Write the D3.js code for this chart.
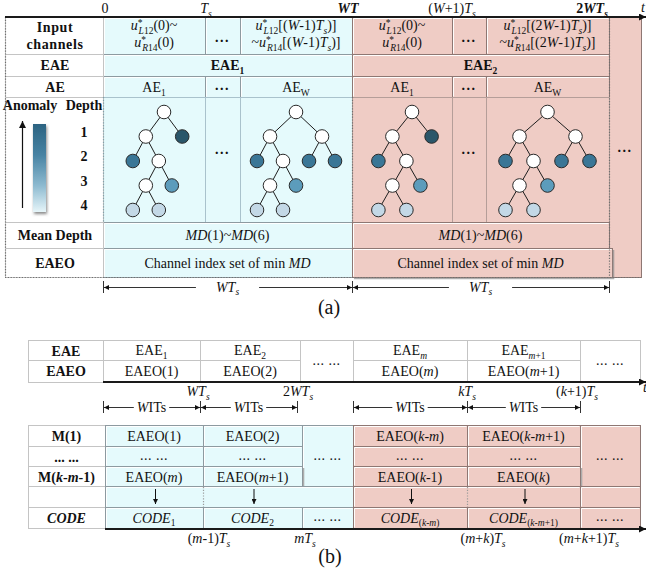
<!DOCTYPE html>
<html>
<head>
<meta charset="utf-8">
<script src="https://cdn.jsdelivr.net/npm/d3@7"></script>
<style>
  body { margin: 0; background: #fff; }
  svg { display: block; }
  text { font-family: "Liberation Serif", "Times New Roman", serif; fill: #111; }
</style>
</head>
<body>
<svg id="fig" width="646" height="575"></svg>
<script>
// ---------------- content ----------------
// markup: |...| italic, !...! bold, _{..} subscript, ^{..} superscript
const axisTicksA = ["0", "|T|_{|s|}", "!|WT|!", "(|W|+1)|T|_{|s|}", "!2|WT|_{|s|}!"];
const rowLabelsA = [["Input", "channels"], ["EAE"], ["AE"], [], ["Mean Depth"], ["EAEO"]];
const inputChannels = [
  [["|u|^{*}_{|L|12}(0)~", "|u|^{*}_{|R|14}(0)"], ["..."],
   ["|u|^{*}_{|L|12}[(|W|-1)|T|_{|s|})]", "~|u|^{*}_{|R|14}[(|W|-1)|T|_{|s|})]"]],
  [["|u|^{*}_{|L|12}(0)~", "|u|^{*}_{|R|14}(0)"], ["..."],
   ["|u|^{*}_{|L|12}[(2|W|-1)|T|_{|s|})]", "~|u|^{*}_{|R|14}[(2|W|-1)|T|_{|s|})]"]]
];
const eaeLabels = ["EAE_{1}", "EAE_{2}"];
const aeLabels = ["AE_{1}", "...", "AE_{W}"];
const legendTitles = ["Anomaly", "Depth"];
const depthLevels = ["1", "2", "3", "4"];
const meanDepthLabel = "|MD|(1)~|MD|(6)";
const eaeoLabel = "Channel index set of min |MD|";
const spanLabelA = "|WT|_{|s|}";

// isolation trees: leaves coloured by their depth, inner nodes white
const treeFirst = { children: [
  { children: [ {}, { children: [ { children: [ {}, {} ] }, {} ] } ] },
  {} ] };
const treeLast = { children: [
  { children: [ {}, { children: [ { children: [ {}, {} ] }, {} ] } ] },
  { children: [ {}, {} ] } ] };
const depthColors = ["#ffffff", "#2a566a", "#3a7696", "#5c9cbc", "#c3d8e6"];

const rowLabelsB1 = ["EAE", "EAEO"];
const eaeRowB = ["EAE_{1}", "EAE_{2}", "EAE_{|m|}", "EAE_{|m|+1}"];
const eaeoRowB = ["EAEO(1)", "EAEO(2)", "EAEO(|m|)", "EAEO(|m|+1)"];
const axisTicksB1 = ["|WT|_{|s|}", "2|WT|_{|s|}", "|kT|_{|s|}", "(|k|+1)|T|_{|s|}"];
const windowLabel = "|W|ITs";
const rowLabelsB2 = ["M(1)", "... ...", "M(|k|-|m|-1)", "", "|CODE|"];
const mFirstRow = ["EAEO(1)", "EAEO(2)", "EAEO(|k|-|m|)", "EAEO(|k|-|m|+1)"];
const mMidRow = ["... ...", "... ...", "... ...", "... ..."];
const mLastRow = ["EAEO(|m|)", "EAEO(|m|+1)", "EAEO(|k|-1)", "EAEO(|k|)"];
const codeRow = ["|CODE|_{1}", "|CODE|_{2}", "|CODE|_{(|k|-|m|)}", "|CODE|_{(|k|-|m|+1)}"];
const axisTicksB2 = ["(|m|-1)|T|_{|s|}", "|mT|_{|s|}", "(|m|+|k|)|T|_{|s|}", "(|m|+|k|+1)|T|_{|s|}"];
const ellipsis = "... ...";
const panelLabels = ["(a)", "(b)"];

// ---------------- styles / layout ----------------
const BLUE = "#e5fafc", PINK = "#efccc5";
const BLUE_EDGE = "#8d9aa0", PINK_EDGE = "#8e7773", GREY_EDGE = "#c4c4c4";
const BLUE_SOFT = "#a9c2cc", PINK_SOFT = "#b59e99";
const FS = 14;

const svg = d3.select("#fig");
const defs = svg.append("defs");

function marker(id, w, h) {
  defs.append("marker").attr("id", id).attr("viewBox", "0 0 10 10")
    .attr("refX", 10).attr("refY", 5).attr("markerWidth", w).attr("markerHeight", h)
    .attr("markerUnits", "userSpaceOnUse").attr("orient", "auto-start-reverse")
    .append("path").attr("d", "M0,0L10,5L0,10z").attr("fill", "#111");
}
marker("dimHead", 8, 5);
marker("axisHead", 9, 7);

const grad = defs.append("linearGradient").attr("id", "depthGrad")
  .attr("x1", 0).attr("y1", 0).attr("x2", 0).attr("y2", 1);
[["0%", "#2c6381"], ["35%", "#4783a3"], ["70%", "#8dbad0"], ["100%", "#e6f5f9"]]
  .forEach(([o, c]) => grad.append("stop").attr("offset", o).attr("stop-color", c));
const shadow = defs.append("filter").attr("id", "barShadow")
  .attr("x", "-40%").attr("y", "-10%").attr("width", "180%").attr("height", "130%");
shadow.append("feDropShadow").attr("dx", 1).attr("dy", 2).attr("stdDeviation", 1.4)
  .attr("flood-color", "#555").attr("flood-opacity", 0.7);

// rich text writer for the small markup above
function rich(t, src, fs, bold0, italic0) {
  let italic = !!italic0, bold = !!bold0, level = 0, shift = 0, buf = "";
  const stack = [];
  let lastSup = null, justClosedSup = false, pendingDx = 0;
  const shiftOf = lv => lv === 1 ? fs * 0.27 : lv === -1 ? -fs * 0.3 : 0;
  function flush() {
    if (!buf) return;
    const s = t.append("tspan").text(buf);
    const target = shiftOf(level);
    if (target !== shift) { s.attr("dy", target - shift); shift = target; }
    if (pendingDx) { s.attr("dx", pendingDx); pendingDx = 0; }
    s.style("font-size", (level ? fs * 0.68 : fs) + "px")
      .style("font-style", italic ? "italic" : "normal")
      .style("font-weight", bold ? "bold" : "normal");
    if (level === -1) lastSup = s;
    buf = "";
    justClosedSup = false;
  }
  for (let i = 0; i < src.length; i++) {
    const c = src[i];
    if (c === "|") { flush(); italic = !italic; }
    else if (c === "!") { flush(); bold = !bold; }
    else if ((c === "_" || c === "^") && src[i + 1] === "{") {
      const wasSup = justClosedSup;
      flush();
      stack.push(level); level = c === "_" ? 1 : -1; i++;
      if (level === 1 && wasSup && lastSup) pendingDx = -0.8 * lastSup.node().getComputedTextLength();
    }
    else if (c === "}" && stack.length) {
      flush(); const was = level; level = stack.pop(); justClosedSup = (was === -1);
    }
    else buf += c;
  }
  flush();
}

function label(g, x, y, src, o = {}) {
  const fs = o.size || FS;
  const t = g.append("text").attr("x", x).attr("y", y)
    .attr("text-anchor", o.anchor || "middle").style("font-size", fs + "px");
  if (o.spacing) t.style("letter-spacing", o.spacing + "px");
  rich(t, src, fs, o.bold, o.italic);
  return t;
}

// cell with a bevelled edge
function box(g, x0, y0, x1, y1, fill, edge, o = {}) {
  g.append("rect").attr("x", x0 + 0.5).attr("y", y0 + 0.5)
    .attr("width", x1 - x0).attr("height", y1 - y0)
    .attr("fill", fill).attr("stroke", edge).attr("stroke-width", 1);
  if (o.bevel !== false) {
    g.append("path").attr("d", `M${x0 + 1.5},${y1 - 0.5}V${y0 + 1.5}H${x1 - 0.5}`)
      .attr("fill", "none").attr("stroke", "#fff").attr("stroke-width", 1).attr("opacity", 0.95);
  }
  if (o.shade) {
    g.append("path").attr("d", `M${x0 + 2},${y1 + 1.5}H${x1 + 1.5}V${y0 + 2}`)
      .attr("fill", "none").attr("stroke", "#8a8a8a").attr("stroke-width", 1.6).attr("opacity", 0.7);
  }
}

function dots(g, x, y, o = {}) {
  return label(g, x, y, o.text || "...", { bold: true, spacing: o.spacing == null ? 1.5 : o.spacing, size: o.size || FS });
}

function axisLine(g, x0, x1, y) {
  g.append("line").attr("x1", x0).attr("x2", x1).attr("y1", y).attr("y2", y)
    .attr("stroke", "#1a1a1a").attr("stroke-width", 1.8).attr("marker-end", "url(#axisHead)");
}

// dimension line |<--- label --->|
function span(g, x0, x1, y, src, gapPad) {
  [x0, x1].forEach(x => g.append("line").attr("x1", x + 0.5).attr("x2", x + 0.5)
    .attr("y1", y - 6).attr("y2", y + 6).attr("stroke", "#333").attr("stroke-width", 1));
  const mid = (x0 + x1) / 2;
  const t = label(g, mid, y + 4.5, src);
  const half = t.node().getComputedTextLength() / 2 + gapPad;
  g.append("line").attr("x1", mid - half).attr("x2", x0 + 1).attr("y1", y + 0.5).attr("y2", y + 0.5)
    .attr("stroke", "#333").attr("marker-end", "url(#dimHead)");
  g.append("line").attr("x1", mid + half).attr("x2", x1).attr("y1", y + 0.5).attr("y2", y + 0.5)
    .attr("stroke", "#333").attr("marker-end", "url(#dimHead)");
}

function dotted(g, x0, y0, x1, y1, color) {
  g.append("line").attr("x1", x0).attr("y1", y0).attr("x2", x1).attr("y2", y1)
    .attr("stroke", color || "#6f6f6f").attr("stroke-width", 1.2).attr("stroke-dasharray", "1.2,1.6");
}

function drawTree(g, data, cx, top, dx, dy, r) {
  const root = d3.hierarchy(data);
  d3.tree().nodeSize([dx, dy])
    .separation((a, b) => (a.depth === 1 && b.depth === 1) ? 1.4 : 1)(root);
  const tg = g.append("g").attr("transform", `translate(${cx},${top})`);
  tg.selectAll("line").data(root.links()).join("line")
    .attr("x1", d => d.source.x).attr("y1", d => d.source.y)
    .attr("x2", d => d.target.x).attr("y2", d => d.target.y)
    .attr("stroke", "#1e1e1e").attr("stroke-width", 1);
  tg.selectAll("circle").data(root.descendants()).join("circle")
    .attr("cx", d => d.x).attr("cy", d => d.y).attr("r", r)
    .attr("fill", d => d.children ? depthColors[0] : depthColors[Math.min(d.depth, 4)])
    .attr("stroke", "#2a2a2a").attr("stroke-width", 1);
}

// ================= panel (a) =================
const A = svg.append("g");
const rowA = [17, 54, 76, 97, 222, 248, 277];
const labelColA = [5, 103];
const blocksA = [
  { x: [103, 205, 240, 352], fill: BLUE, edge: BLUE_EDGE, soft: BLUE_SOFT, dx: 26, eaeoEnd: 352 },
  { x: [352, 452, 486, 609], fill: PINK, edge: PINK_EDGE, soft: PINK_SOFT, dx: 28, eaeoEnd: 612 }
];
const mid = (a, b) => (a + b) / 2;

// trailing column after the second window
box(A, 609, rowA[0], 641, rowA[6], PINK, PINK_EDGE, { bevel: false });
dots(A, 625, 152);

blocksA.forEach((b, k) => {
  const x = b.x;
  // input channels
  for (let i = 0; i < 3; i++) {
    box(A, x[i], rowA[0], x[i + 1], rowA[1], b.fill, b.edge);
    const lines = inputChannels[k][i];
    if (lines.length === 1) dots(A, mid(x[i], x[i + 1]), 42);
    else lines.forEach((s, j) => label(A, mid(x[i], x[i + 1]), 30 + j * 17, s));
  }
  // EAE
  box(A, x[0], rowA[1], x[3], rowA[2], b.fill, b.edge);
  label(A, mid(x[0], x[3]), 70, eaeLabels[k], { bold: true });
  // AE
  for (let i = 0; i < 3; i++) {
    box(A, x[i], rowA[2], x[i + 1], rowA[3], b.fill, b.edge);
    if (aeLabels[i] === "...") dots(A, mid(x[i], x[i + 1]), 90);
    else label(A, mid(x[i], x[i + 1]), 92, aeLabels[i]);
  }
  // trees
  for (let i = 0; i < 3; i++) box(A, x[i], rowA[3], x[i + 1], rowA[4], b.fill, b.soft, { bevel: false });
  drawTree(A, treeFirst, mid(x[0], x[1]) + 10, 112, b.dx, 24.5, 6.8);
  dots(A, mid(x[1], x[2]), 154);
  drawTree(A, treeLast, mid(x[2], x[3]), 112, b.dx, 24.5, 6.8);
  // mean depth
  box(A, x[0], rowA[4], x[3], rowA[5], b.fill, b.edge);
  label(A, mid(x[0], x[3]), 240, meanDepthLabel);
  // EAEO
  box(A, x[0], rowA[5], b.eaeoEnd, rowA[6], b.fill, b.edge, { shade: k === 1 });
  label(A, mid(x[0], x[3]), 268, eaeoLabel);
});

// label column
for (let r = 0; r < 6; r++) {
  box(A, labelColA[0], rowA[r], labelColA[1], rowA[r + 1], "#ffffff", GREY_EDGE);
  const lines = rowLabelsA[r];
  const cy = mid(rowA[r], rowA[r + 1]);
  lines.forEach((s, j) => label(A, mid(labelColA[0], labelColA[1]) + 1,
    cy + 5 + (j - (lines.length - 1) / 2) * 16.5, s, { bold: true, spacing: lines.length > 1 ? 0.6 : 0 }));
}
// depth legend
label(A, 30, 110, legendTitles[0], { bold: true });
label(A, 84, 110, legendTitles[1], { bold: true });
A.append("line").attr("x1", 22.5).attr("x2", 22.5).attr("y1", 208).attr("y2", 121)
  .attr("stroke", "#111").attr("stroke-width", 1.2).attr("marker-end", "url(#axisHead)");
A.append("rect").attr("x", 33).attr("y", 124).attr("width", 13).attr("height", 88)
  .attr("fill", "url(#depthGrad)").attr("filter", "url(#barShadow)");
depthLevels.forEach((d, i) => label(A, 84, 137 + i * 24.4, d, { bold: true }));

// dotted frame
dotted(A, 5.5, rowA[0], 5.5, rowA[6] + 0.5);
dotted(A, 5, rowA[6] + 0.5, 641, rowA[6] + 0.5);
dotted(A, 103.5, rowA[3], 103.5, rowA[4], "#7f9fa8");
dotted(A, 352.5, rowA[3], 352.5, rowA[4]);
dotted(A, 609.5, rowA[0], 609.5, rowA[6]);

// time axis
axisLine(A, 5, 646, 17);
const tickXA = [105, 206, 348, 452, 592];
axisTicksA.forEach((s, i) => label(A, tickXA[i], 13, s));
label(A, 641, 12, "|t|", { anchor: "start" });

// window spans
span(A, 103, 352, 287, spanLabelA, 20);
span(A, 352, 609, 287, spanLabelA, 20);
label(A, 329, 314, panelLabels[0], { size: 20 });

// ================= panel (b) =================
const B = svg.append("g");
const colB = [103, 200, 300, 353, 467, 580, 640];
const rowB1 = [340, 360, 382];
// header table
for (let r = 0; r < 2; r++) {
  box(B, 28, rowB1[r], colB[0], rowB1[r + 1], "#fff", GREY_EDGE);
  label(B, 66, rowB1[r] + 15.5, rowLabelsB1[r], { bold: true });
}
const dataColsB1 = [0, 1, 3, 4];
dataColsB1.forEach((c, i) => {
  box(B, colB[c], rowB1[0], colB[c + 1], rowB1[1], "#fff", GREY_EDGE);
  box(B, colB[c], rowB1[1], colB[c + 1], rowB1[2], "#fff", GREY_EDGE);
  label(B, mid(colB[c], colB[c + 1]), rowB1[0] + 15, eaeRowB[i]);
  label(B, mid(colB[c], colB[c + 1]), rowB1[1] + 16, eaeoRowB[i]);
});
[2, 5].forEach(c => {
  box(B, colB[c], rowB1[0], colB[c + 1], rowB1[2], "#fff", GREY_EDGE);
  label(B, mid(colB[c], colB[c + 1]), 365, ellipsis, { spacing: 0.5 });
});
axisLine(B, 103, 646, 382);
label(B, 643, 392, "|t|", { anchor: "start" });
const tickXB1 = [198, 298, 467, 577];
axisTicksB1.forEach((s, i) => label(B, tickXB1[i], 396, s));
[[103, 200], [200, 297], [353, 467], [467, 580]].forEach(([a, b]) => span(B, a, b, 407, windowLabel, 3));

// memory table
const colB2 = [28, 105, 203, 302, 353, 467, 580, 640];
const rowB2 = [425, 446, 466, 486, 507, 528];
for (let r = 0; r < 5; r++) {
  box(B, colB2[0], rowB2[r], colB2[1], rowB2[r + 1], "#fff", GREY_EDGE);
  label(B, mid(colB2[0], colB2[1]), rowB2[r] + 15.5, rowLabelsB2[r], { bold: true });
}
const groupsB = [
  { cols: [1, 2], wide: 3, fill: BLUE, edge: BLUE_EDGE, soft: BLUE_SOFT, first: 0 },
  { cols: [4, 5], wide: 6, fill: PINK, edge: PINK_EDGE, soft: PINK_SOFT, first: 2 }
];
groupsB.forEach(gp => {
  const x0 = colB2[gp.cols[0]], xw = colB2[gp.wide], xe = colB2[gp.wide + 1];
  // merged ellipsis column
  box(B, xw, rowB2[0], xe, rowB2[3], gp.fill, gp.edge);
  label(B, mid(xw, xe), rowB2[1] + 14, ellipsis, { spacing: 0.5 });
  gp.cols.forEach((c, j) => {
    const a = colB2[c], b = colB2[c + 1], idx = gp.first + j;
    box(B, a, rowB2[0], b, rowB2[1], gp.fill, gp.edge);
    box(B, a, rowB2[1], b, rowB2[2], gp.fill, gp.edge);
    box(B, a, rowB2[2], b, rowB2[3], gp.fill, gp.edge, { shade: true });
    label(B, mid(a, b), rowB2[0] + 15.5, mFirstRow[idx]);
    label(B, mid(a, b), rowB2[1] + 14, mMidRow[idx], { spacing: 0.5 });
    label(B, mid(a, b), rowB2[2] + 15.5, mLastRow[idx]);
  });
  // arrow row
  box(B, x0, rowB2[3], gp.wide === 6 ? colB2[6] : xe, rowB2[4], gp.fill, gp.edge);
  if (gp.wide === 6) box(B, colB2[6], rowB2[3], xe, rowB2[4], gp.fill, gp.edge);
  dotted(B, colB2[gp.cols[1]] + 0.5, rowB2[3] + 1, colB2[gp.cols[1]] + 0.5, rowB2[4], "#9a9a9a");
  gp.cols.forEach(c => {
    const cx = mid(colB2[c], colB2[c + 1]) + 1;
    B.append("line").attr("x1", cx + 0.5).attr("x2", cx + 0.5).attr("y1", rowB2[3] + 3).attr("y2", rowB2[4] - 3)
      .attr("stroke", "#111").attr("marker-end", "url(#dimHead)");
  });
  // code row
  gp.cols.forEach((c, j) => {
    const a = colB2[c], b = colB2[c + 1];
    box(B, a, rowB2[4], b, rowB2[5], gp.fill, gp.edge);
    label(B, mid(a, b), rowB2[4] + 15.5, codeRow[gp.first + j]);
  });
  box(B, xw, rowB2[4], xe, rowB2[5], gp.fill, gp.edge);
  label(B, mid(xw, xe), rowB2[4] + 14, ellipsis, { spacing: 0.5 });
});
axisLine(B, 105, 646, 529);
const tickXB2 = [209, 305, 483, 589];
axisTicksB2.forEach((s, i) => label(B, tickXB2[i], 543, s));
label(B, 330, 563, panelLabels[1], { size: 20 });
</script>
</body>
</html>
